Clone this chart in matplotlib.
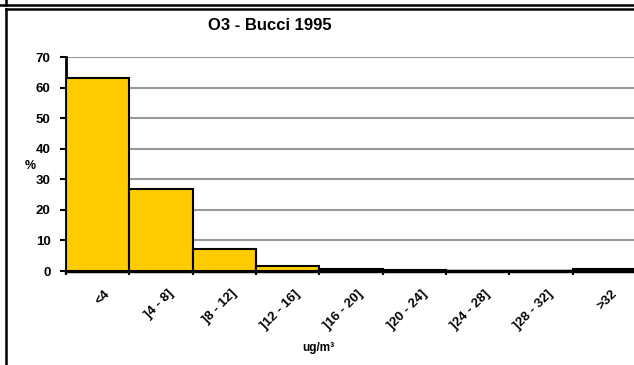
import numpy as np
import matplotlib.pyplot as plt
from matplotlib.lines import Line2D

# class labels and percentages
categories = ['<4', ']4 - 8]', ']8 - 12]', ']12 - 16]', ']16 - 20]',
              ']20 - 24]', ']24 - 28]', ']28 - 32]', '>32']
percent = [63.2, 26.8, 7.2, 1.8, 0.8, 0.4, 0.1, 0.1, 0.5]
yticks = [0, 10, 20, 30, 40, 50, 60, 70]

plt.rcParams['font.family'] = ['Liberation Sans', 'DejaVu Sans']
plt.rcParams['font.weight'] = 'bold'

fig = plt.figure(figsize=(6.34, 3.65), dpi=100)
ax = fig.add_axes([66 / 634, 1 - 271 / 365, 570 / 634, (271 - 57.3) / 365])

x = np.arange(len(categories))
ax.bar(x, percent, width=1.0, color='#FFCC00', edgecolor='black', linewidth=1.5, zorder=3)

ax.set_xlim(-0.5, len(categories) - 0.5)
ax.set_ylim(0, 70)
ax.set_yticks(yticks)
ax.set_yticklabels([str(v) for v in yticks], fontsize=9.5, fontweight='bold')
ax.yaxis.grid(True, color='#999999', linewidth=1.5, zorder=0)
ax.set_axisbelow(True)

# ticks on class boundaries, labels at class centers
ax.set_xticks(np.arange(len(categories) + 1) - 0.5)
ax.set_xticklabels([])
ax.tick_params(axis='x', direction='out', length=3, width=1.5)
ax.tick_params(axis='y', direction='out', length=4, width=1.5, pad=7)
for i, lab in enumerate(categories):
    ax.text(i + 0.1, -5.5, lab, rotation=45, rotation_mode='anchor',
            ha='right', va='top', fontsize=9.5, fontweight='bold')

for s in ['top', 'right']:
    ax.spines[s].set_visible(False)
ax.spines['left'].set_linewidth(2)
ax.spines['bottom'].set_linewidth(2.5)

fig.text(270 / 634, 1 - 25 / 365, 'O3 - Bucci 1995', ha='center', va='center',
         fontsize=12, fontweight='bold')
fig.text(30 / 634, 1 - 166 / 365, '%', ha='center', va='center', fontsize=9, fontweight='bold')
fig.text(318 / 634, 1 - 348 / 365, 'ug/m³', ha='center', va='center', fontsize=8.5, fontweight='bold')

# outer frame pieces
fig.add_artist(Line2D([0, 1], [1 - 4.8 / 365, 1 - 4.8 / 365], color='black', linewidth=1.8))
fig.add_artist(Line2D([0.0095, 1], [1 - 8.8 / 365, 1 - 8.8 / 365], color='black', linewidth=1.8))
fig.add_artist(Line2D([0.0095, 0.0095], [1 - 4.8 / 365, 1], color='black', linewidth=1.8))
fig.add_artist(Line2D([0.0095, 0.0095], [0, 1 - 8.8 / 365], color='black', linewidth=1.8))

fig.savefig('out.png', dpi=100)
